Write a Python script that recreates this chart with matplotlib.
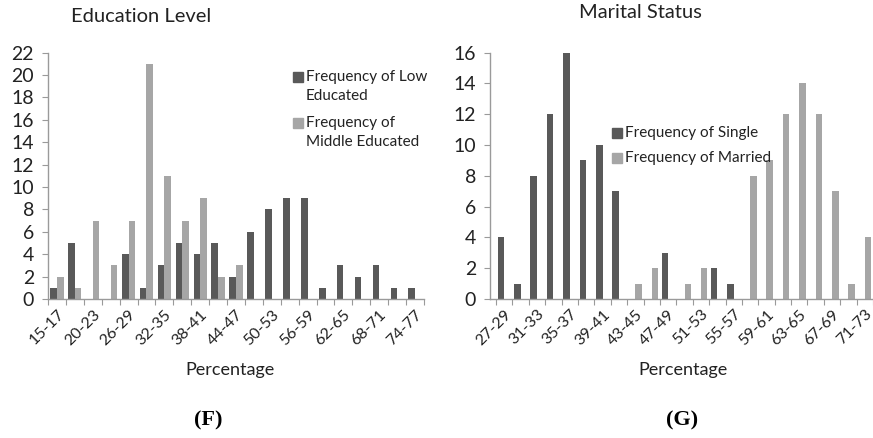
import matplotlib
matplotlib.use('Agg')
import matplotlib.pyplot as plt
from matplotlib.patches import Rectangle
import numpy as np

plt.rcParams.update({
    'font.family': ['Lato', 'DejaVu Sans'],
    'text.color': '#222222',
    'axes.edgecolor': '#9a9a9a',
    'xtick.color': '#9a9a9a',
    'ytick.color': '#9a9a9a',
    'xtick.labelcolor': '#222222',
    'ytick.labelcolor': '#222222',
})

DARK = '#595959'
LIGHT = '#a6a6a6'
W, H = 873, 438

# (F) Education level
edu_bins = ['15-17', '17-20', '20-23', '23-26', '26-29', '29-32', '32-35',
            '35-38', '38-41', '41-44', '44-47', '47-50', '50-53', '53-56',
            '56-59', '59-62', '62-65', '65-68', '68-71', '71-74', '74-77']
low_edu = [1, 5, 0, 0, 4, 1, 3, 5, 4, 5, 2, 6, 8, 9, 9, 1, 3, 2, 3, 1, 1]
mid_edu = [2, 1, 7, 3, 7, 21, 11, 7, 9, 2, 3, 0, 0, 0, 0, 0, 0, 0, 0, 0, 0]

# (G) Marital status
mar_bins = ['27-29', '29-31', '31-33', '33-35', '35-37', '37-39', '39-41',
            '41-43', '43-45', '45-47', '47-49', '49-51', '51-53', '53-55',
            '55-57', '57-59', '59-61', '61-63', '63-65', '65-67', '67-69',
            '69-71', '71-73']
single = [4, 1, 8, 12, 16, 9, 10, 7, 0, 0, 3, 0, 0, 2, 1, 0, 0, 0, 0, 0, 0, 0, 0]
married = [0, 0, 0, 0, 0, 0, 0, 0, 1, 2, 0, 1, 2, 0, 0, 8, 9, 12, 14, 12, 7, 1, 4]


def style_axis(ax, labels, ymax, xleft):
    n = len(labels)
    ax.set_xlim(xleft, n - 0.5)
    ax.set_ylim(0, ymax)
    ax.set_yticks(np.arange(0, ymax + 1, 2))
    ax.tick_params(axis='y', length=4, width=0.8, labelsize=14, pad=6)
    ax.set_xticks(np.arange(n)[::2])
    ax.set_xticklabels(labels[::2], rotation=45, ha='right',
                       rotation_mode='anchor', fontsize=11.5)
    ax.set_xticks(np.arange(n + 1) - 0.5, minor=True)
    ax.tick_params(axis='x', which='major', length=0, pad=6)
    ax.tick_params(axis='x', which='minor', length=4, width=0.8)
    for s in ['top', 'right']:
        ax.spines[s].set_visible(False)
    for s in ['left', 'bottom']:
        ax.spines[s].set_linewidth(1.0)


def legend_entry(x, y, color, lines):
    # square marker beside the first line, like the Excel legend
    fig.patches.append(Rectangle(((x - 5) / W, 1 - (y + 5) / H), 10 / W, 10 / H,
                                 transform=fig.transFigure, color=color))
    for i, line in enumerate(lines):
        fig.text((x + 8) / W, 1 - (y + 18.5 * i) / H, line, ha='left',
                 va='center', fontsize=11)


fig = plt.figure(figsize=(8.73, 4.38), dpi=100)

ax1 = fig.add_axes([0.055, 0.3174, 0.4307, 0.5626])
x = np.arange(len(edu_bins))
ax1.bar(x - 0.185, low_edu, width=0.37, color=DARK)
ax1.bar(x + 0.185, mid_edu, width=0.37, color=LIGHT)
style_axis(ax1, edu_bins, 22, -0.5)
legend_entry(298, 77, DARK, ['Frequency of Low', 'Educated'])
legend_entry(298, 123, LIGHT, ['Frequency of', 'Middle Educated'])

ax2 = fig.add_axes([0.5613, 0.3174, 0.4387, 0.5626])
x2 = np.arange(len(mar_bins))
ax2.bar(x2 - 0.2, single, width=0.4, color=DARK)
ax2.bar(x2 + 0.2, married, width=0.4, color=LIGHT)
style_axis(ax2, mar_bins, 16, -0.87)
legend_entry(617, 133, DARK, ['Frequency of Single'])
legend_entry(617, 158, LIGHT, ['Frequency of Married'])

fig.text(141 / W, 1 - 16 / H, 'Education Level', ha='center', va='center', fontsize=14.5)
fig.text(640 / W, 1 - 12 / H, 'Marital Status', ha='center', va='center', fontsize=14.5)
fig.text(230 / W, 1 - 370 / H, 'Percentage', ha='center', va='center', fontsize=13)
fig.text(683 / W, 1 - 370 / H, 'Percentage', ha='center', va='center', fontsize=13)
fig.text(208 / W, 1 - 420 / H, '(F)', ha='center', va='center', fontsize=16,
         fontweight='bold', family='Liberation Serif', color='black')
fig.text(682 / W, 1 - 420 / H, '(G)', ha='center', va='center', fontsize=16,
         fontweight='bold', family='Liberation Serif', color='black')

fig.savefig('out.png', dpi=100)
